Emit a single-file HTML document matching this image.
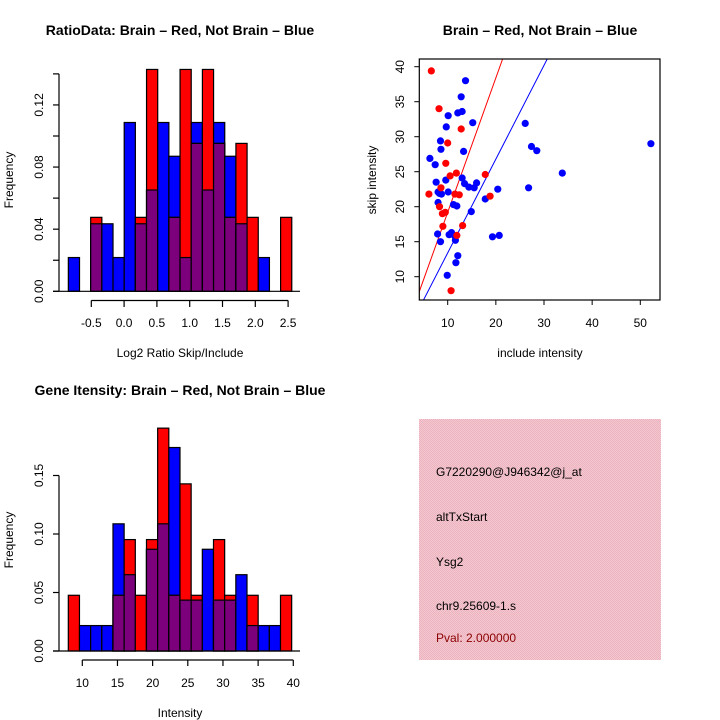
<!DOCTYPE html>
<html><head><meta charset="utf-8">
<style>
html,body{margin:0;padding:0;background:#fff;}
svg{display:block;font-family:"Liberation Sans",sans-serif;}
</style></head>
<body>
<svg id="c" width="720" height="720" viewBox="0 0 720 720" xmlns="http://www.w3.org/2000/svg">
<defs>
<pattern id="pk" width="2" height="2" patternUnits="userSpaceOnUse">
<rect width="2" height="2" fill="#f5c8d0"/><rect width="1" height="1" fill="#eab3bf"/><rect x="1" y="1" width="1" height="1" fill="#eab3bf"/>
</pattern>
</defs>
<g id="p1"></g>
<g id="p2"></g>
<g id="p3"></g>
<g id="p4">
<rect x="419" y="419" width="242" height="241" fill="url(#pk)"/>
<text x="436" y="476" font-size="12">G7220290@J946342@j_at</text>
<text x="436" y="521" font-size="12">altTxStart</text>
<text x="436" y="566" font-size="12">Ysg2</text>
<text x="436" y="610" font-size="12">chr9.25609-1.s</text>
<text x="436" y="642" font-size="12" fill="#8b0000">Pval: 2.000000</text>
</g>
</svg>
<script>
// ---- Ratio histogram data ----
const ratioBinStart = -0.85;
const ratioBinWidth = 0.1703;
const ratioBlueCounts = [1,0,2,2,1,5,2,3,5,4,1,5,3,5,4,2,0,1,0,0];
const ratioRedCounts  = [0,0,1,0,0,0,1,3,0,1,3,2,3,2,1,2,1,0,0,1];
const ratioXTicks = [-0.5,0.0,0.5,1.0,1.5,2.0,2.5];
const ratioXTickLabels = ["-0.5","0.0","0.5","1.0","1.5","2.0","2.5"];
const ratioYTicks = [0,0.02,0.04,0.06,0.08,0.10,0.12,0.14];
const ratioYLabels = [0,0.04,0.08,0.12];
// ---- Intensity histogram data ----
const intBinStart = 8.01;
const intBinWidth = 1.588;
const intBlueCounts = [0,1,1,1,5,3,0,4,5,8,2,2,4,2,2,3,1,1,1,0];
const intRedCounts  = [1,0,0,0,1,2,1,2,4,1,3,1,0,2,1,0,1,0,0,1];
const intXTicks = [10,15,20,25,30,35,40];
const intYTicks = [0,0.05,0.10,0.15];
const blueTotal = 46, redTotal = 21;
// ---- Scatter data ----
const redInclude = [6.6,8.2,12.8,10.0,9.6,10.5,11.8,17.8,6.1,8.6,11.5,12.4,18.8,8.3,8.9,9.5,9.0,13.1,11.9,10.7];
const redSkip    = [39.4,34.0,31.1,29.1,26.2,24.4,24.8,24.6,21.8,22.7,21.8,21.7,21.5,20.0,19.0,19.2,17.2,17.3,15.9,8.0];
const blueInclude = [13.7,12.8,10.1,12.1,13.0,15.2,9.7,26.1,8.5,8.6,13.3,27.4,28.5,52.2,6.3,7.4,33.8,7.6,9.6,13.0,13.5,14.4,15.5,16.0,20.4,26.8,8.0,8.7,10.1,8.0,17.8,11.2,11.9,14.9,7.9,10.3,10.8,11.5,11.6,8.5,19.3,20.7,12.1,11.7,9.9,8.3];
const blueSkip    = [38.0,35.7,33.0,33.4,33.6,32.0,31.4,31.9,29.4,28.2,27.9,28.6,28.0,29.0,26.9,26.0,24.8,23.5,23.8,24.1,23.3,22.8,22.7,23.4,22.5,22.7,22.1,21.8,22.1,20.6,21.1,20.3,20.1,19.3,16.1,16.0,16.3,15.8,15.2,15.0,15.7,15.9,13.0,12.0,10.2,21.9];
const redSlope = 1.92, blueSlope = 1.34;
const scXTicks = [10,20,30,40,50];
const scYTicks = [10,15,20,25,30,35,40];

const NS = "http://www.w3.org/2000/svg";
function mk(parent, tag, attrs, txt){
  const e = document.createElementNS(NS, tag);
  for (const k in attrs) e.setAttribute(k, attrs[k]);
  if (txt !== undefined) e.textContent = txt;
  parent.appendChild(e); return e;
}
const BLUE="#0000ff", RED="#ff0000", PURP="#7c007c";

function histogram(g, binStart, binW, blue, red, xs, ys, opts){
  for (let i=0;i<blue.length;i++){
    const x0 = xs(binStart + i*binW), x1 = xs(binStart + (i+1)*binW);
    const fb = blue[i]/blueTotal, fr = red[i]/redTotal;
    if (fb>0){
      const r = mk(g,'rect',{x:x0,y:ys(fb),width:x1-x0,height:ys(0)-ys(fb),fill:BLUE,stroke:'#000','stroke-width':1.2});
      
      
    }
    if (fr>0){
      const r = mk(g,'rect',{x:x0,y:ys(fr),width:x1-x0,height:ys(0)-ys(fr),fill:RED,stroke:'#000','stroke-width':1.2});
      
      
    }
    const fm = Math.min(fb,fr);
    if (fm>0){
      const r = mk(g,'rect',{x:x0,y:ys(fm),width:x1-x0,height:ys(0)-ys(fm),fill:PURP,stroke:'#000','stroke-width':1.2});
      
      
    }
  }
}

// Panel 1
(function(){
  const g = document.getElementById('p1');
  const xs = v => 91.3 + (v+0.5)*65.6;
  const ys = f => 291.3 - f*1553;
  histogram(g, ratioBinStart, ratioBinWidth, ratioBlueCounts, ratioRedCounts, xs, ys);
  mk(g,'line',{x1:53,x2:300,y1:ys(0),y2:ys(0),stroke:'#000','stroke-width':1.2});
  mk(g,'line',{x1:59,x2:59,y1:ys(0),y2:ys(0.14),stroke:'#000','stroke-width':1.2});
  ratioYTicks.forEach(t=>mk(g,'line',{x1:53,x2:59,y1:ys(t),y2:ys(t),stroke:'#000','stroke-width':1.2}));
  ratioYLabels.forEach(t=>{const y=ys(t);const e=mk(g,'text',{x:0,y:0,'font-size':12,'text-anchor':'middle',transform:`translate(43,${y}) rotate(-90)`},t.toFixed(2));
    
    });
  mk(g,'line',{x1:xs(-0.5),x2:xs(2.5),y1:300.5,y2:300.5,stroke:'#000','stroke-width':1.2});
  ratioXTicks.forEach((t,i)=>{mk(g,'line',{x1:xs(t),x2:xs(t),y1:300.5,y2:307,stroke:'#000','stroke-width':1.2});
    const e=mk(g,'text',{x:xs(t),y:327,'font-size':12,'text-anchor':'middle'},ratioXTickLabels[i]);
    
    });
  const t=mk(g,'text',{x:180,y:35,'font-size':14,'font-weight':'bold','text-anchor':'middle'},'RatioData: Brain – Red, Not Brain – Blue');
  
  
  const xl=mk(g,'text',{x:180,y:357,'font-size':12,'text-anchor':'middle'},'Log2 Ratio Skip/Include');
  
  
  const yl=mk(g,'text',{x:0,y:0,'font-size':12,'text-anchor':'middle',transform:'translate(13,180) rotate(-90)'},'Frequency');
  
  
})();

// Panel 3
(function(){
  const g = document.getElementById('p3');
  const xs = v => 82.3 + (v-10)*7.033;
  const ys = f => 651 - f*1170;
  histogram(g, intBinStart, intBinWidth, intBlueCounts, intRedCounts, xs, ys);
  mk(g,'line',{x1:53,x2:300,y1:ys(0),y2:ys(0),stroke:'#000','stroke-width':1.2});
  mk(g,'line',{x1:59,x2:59,y1:ys(0),y2:ys(0.15),stroke:'#000','stroke-width':1.2});
  intYTicks.forEach(t=>{mk(g,'line',{x1:53,x2:59,y1:ys(t),y2:ys(t),stroke:'#000','stroke-width':1.2});
    const e=mk(g,'text',{x:0,y:0,'font-size':12,'text-anchor':'middle',transform:`translate(43,${ys(t)}) rotate(-90)`},t.toFixed(2));
    
    });
  mk(g,'line',{x1:xs(10),x2:xs(40),y1:660,y2:660,stroke:'#000','stroke-width':1.2});
  intXTicks.forEach(t=>{mk(g,'line',{x1:xs(t),x2:xs(t),y1:660,y2:666,stroke:'#000','stroke-width':1.2});
    const e=mk(g,'text',{x:xs(t),y:687,'font-size':12,'text-anchor':'middle'},String(t));
    
    });
  const t=mk(g,'text',{x:180,y:395,'font-size':14,'font-weight':'bold','text-anchor':'middle'},'Gene Itensity: Brain – Red, Not Brain – Blue');
  
  
  const xl=mk(g,'text',{x:180,y:717,'font-size':12,'text-anchor':'middle'},'Intensity');
  
  
  const yl=mk(g,'text',{x:0,y:0,'font-size':12,'text-anchor':'middle',transform:'translate(13,540) rotate(-90)'},'Frequency');
  
  
})();

// Panel 2 scatter
(function(){
  const g = document.getElementById('p2');
  const L=419.3,R=660,T=59,B=300;
  const xs = v => 447.7 + (v-10)*4.815;
  const ys = v => 276.7 - (v-10)*7.0;
  const xmin=10+(L-447.7)/4.815, xmax=10+(R-447.7)/4.815;
  const ymin=10-(B-276.7)/7, ymax=10+(276.7-T)/7;
  mk(g,'clipPath',{id:'scclip'});
  const cp=document.getElementById('scclip');
  mk(cp,'rect',{x:L,y:T,width:R-L,height:B-T});
  const pg = mk(g,'g',{'clip-path':'url(#scclip)'});
  [[redSlope,RED,'red-fit-line'],[blueSlope,BLUE,'blue-fit-line']].forEach(([s,c,n])=>{
    const x0=xmin, x1=Math.min(xmax, ymax/s);
    const l=mk(pg,'line',{x1:xs(x0),y1:ys(s*x0),x2:xs(x1),y2:ys(s*x1),stroke:c,'stroke-width':1});
    
    
  });
  blueInclude.forEach((v,i)=>{const c=mk(pg,'circle',{cx:xs(v),cy:ys(blueSkip[i]),r:3.6,fill:BLUE});
    
    });
  redInclude.forEach((v,i)=>{const c=mk(pg,'circle',{cx:xs(v),cy:ys(redSkip[i]),r:3.6,fill:RED});
    
    });
  mk(g,'rect',{x:L,y:T,width:R-L,height:B-T,fill:'none',stroke:'#000','stroke-width':1.2});
  scXTicks.forEach(t=>{mk(g,'line',{x1:xs(t),x2:xs(t),y1:B,y2:B+5,stroke:'#000','stroke-width':1});
    const e=mk(g,'text',{x:xs(t),y:327,'font-size':12,'text-anchor':'middle'},String(t));
    
    });
  scYTicks.forEach(t=>{mk(g,'line',{x1:L-5,x2:L,y1:ys(t),y2:ys(t),stroke:'#000','stroke-width':1});
    const e=mk(g,'text',{x:0,y:0,'font-size':12,'text-anchor':'middle',transform:`translate(404,${ys(t)}) rotate(-90)`},String(t));
    
    });
  const t=mk(g,'text',{x:540,y:35,'font-size':14,'font-weight':'bold','text-anchor':'middle'},'Brain – Red, Not Brain – Blue');
  
  
  const xl=mk(g,'text',{x:540,y:357,'font-size':12,'text-anchor':'middle'},'include intensity');
  
  
  const yl=mk(g,'text',{x:0,y:0,'font-size':12,'text-anchor':'middle',transform:'translate(376,180) rotate(-90)'},'skip intensity');
  
  
})();
</script>
</body></html>
